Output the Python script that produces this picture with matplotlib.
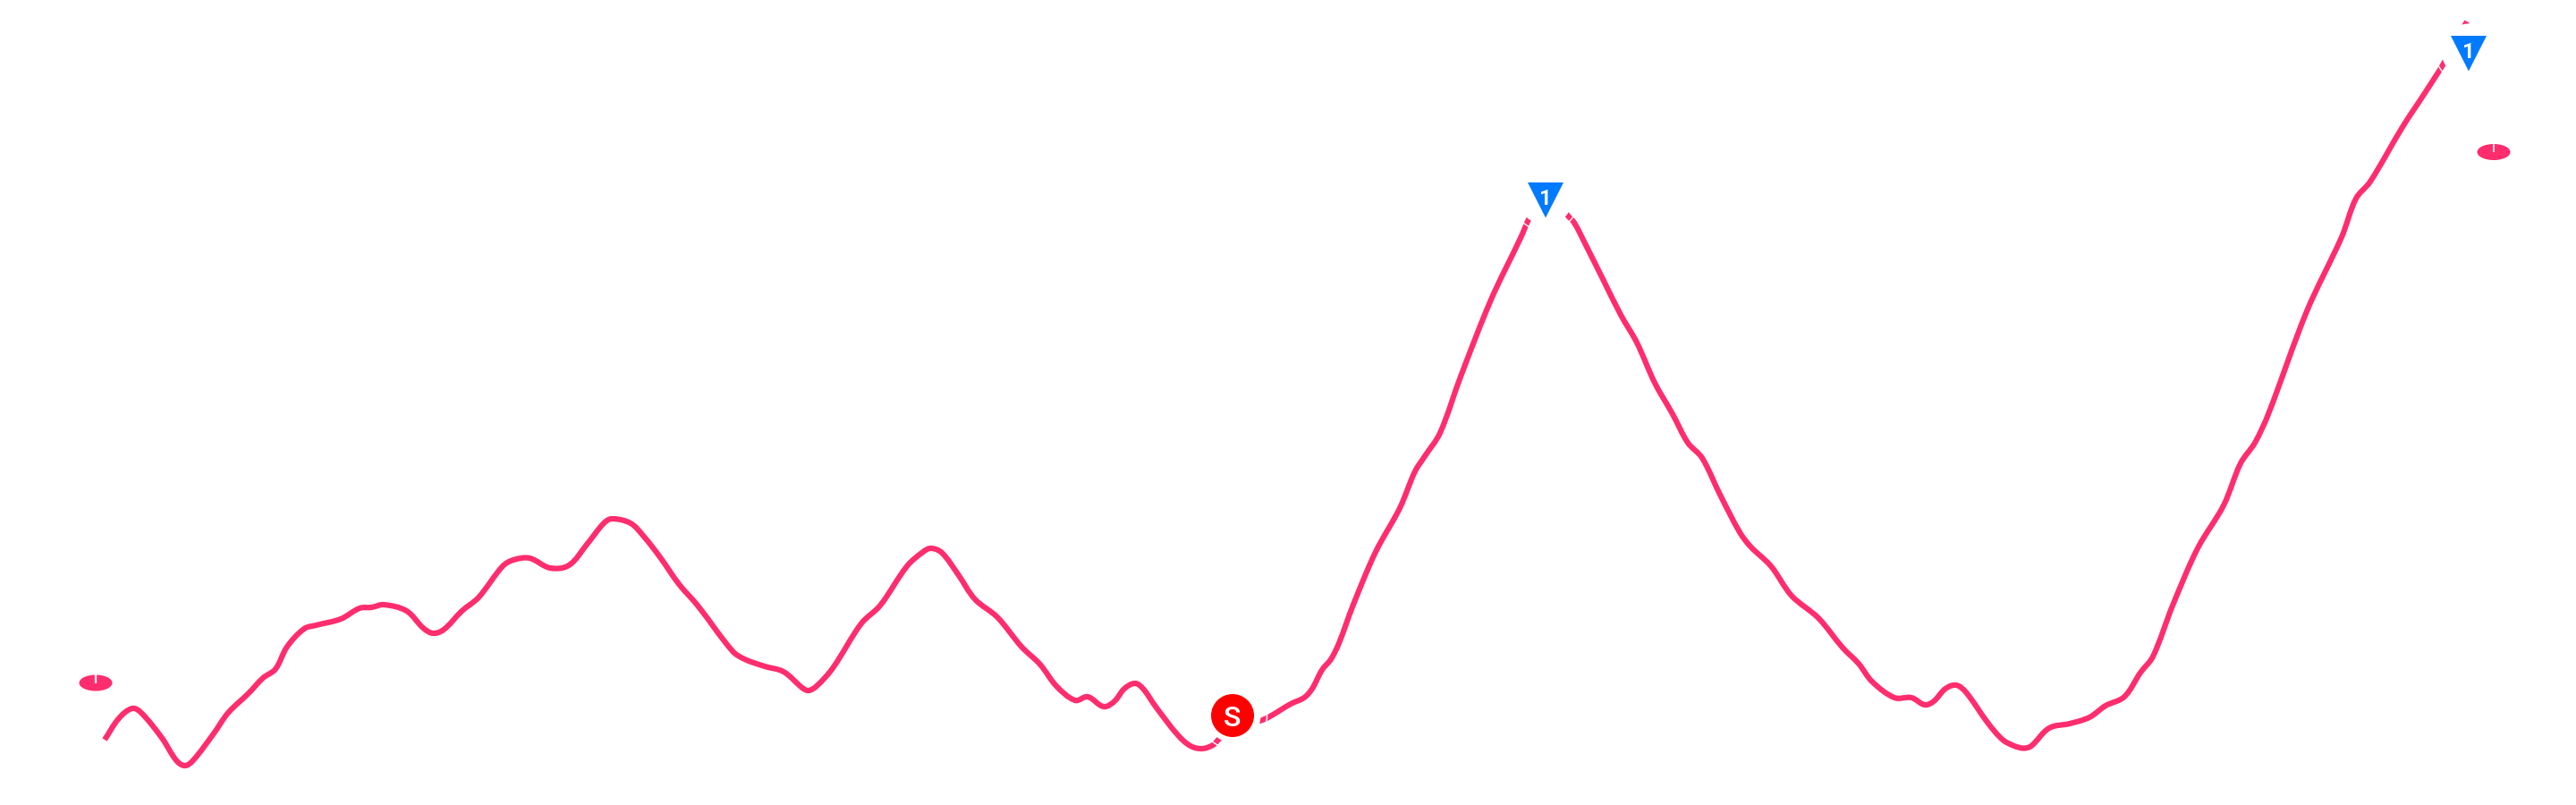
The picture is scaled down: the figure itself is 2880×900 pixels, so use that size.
import numpy as np
import matplotlib
matplotlib.use("Agg")
import matplotlib.pyplot as plt
from matplotlib.path import Path
from matplotlib.patches import PathPatch, Circle, Ellipse, Polygon

plt.rcParams['font.family'] = ['Roboto', 'DejaVu Sans']

LINE = '#FF2D6E'
BLUE = '#007AFF'
RED = '#FF0000'

series_x = [117,133,148,158,181,197,206.6,216,239,255,278,294,308,321,340,353.5,381,402,415.5,429,454.5,473,484,496,516.5,535,562,574,592,615,636,656.6,675,684,705,
            720,738,759,780,819,832.5,855,876,897,904,913,931,963,984,1014,1032,1041,1053,1071,1090,1115,1142,1163,1181,1202,1216,1234,1246,1257,1269,1278,1292,1317,1331,1344,1356,1363,
            1378,1408,1418,1443,1458,1467,1478,1488,1497,1513,1538,1565,1582,1593,1610,1633,1667,1700,1710,
            1729,1752,1760,1773,1793,1812,1830,1850,1870,1887,1903,1923,1945,1957,1980,2003,2033,2060,2078,2093,2118,2137,2152,2162,2175,2187,2198,2223,2239,
            2252,2262.5,2271,2291,2314,2336,2354,2375,2393,2407,2429,2457,2486,2505,2521,2536,2579,2618,2634,2650,2686,2711,2732,2758]
series_y = [827,803,792,797,825,850,856,850,820,797,775,758,748,723,703,699,692,680,679,676,683,702,708,704,683,668,633,626,624,635,632,608,585,580,585,
            600,623,653,677,728,737,745,751,769,772,767,747,697,677,633,617,613,618,642,670,690,723,743,767,783,779,790,784,770,764,770,790,822,834,837,833,826,
            812,806,802,787,780,770,749,737,719,676,617,568,527,510,484,421,335,266,243,
            205,240,249,274,314,352,383,428,463,495,512,553,595,611,633,666,691,724,742,762,780,780,788,784,770,766,774,809,827,
            834,836.5,834,814,809,802,789,779,752,734,677,613,565,518,495,463,348,265,222,203,142,104,71,24]

halo_x = [1379, 1728, 2760]
halo_y = [800, 221, 57]
triangle_x = [1728, 2760]
triangle_top = [204, 40]
triangle_labels = ['1', '1']
power_x = [107, 2788]
power_y = [763.5, 170]

fig = plt.figure(figsize=(14.4, 4.5), dpi=200)
ax = fig.add_axes([0, 0, 1, 1])
ax.set_xlim(0, 2880)
ax.set_ylim(900, 0)
ax.axis('off')
PX = 72 / 200

def smooth_path(xs, ys):
    # Cubic segments through the read points; tangents are scaled per segment
    # so that uneven spacing between points does not cause kinks.
    p = np.column_stack([xs, ys]).astype(float)
    n = len(p)
    t = np.zeros_like(p)
    for i in range(n):
        d = p[min(i + 1, n - 1)] - p[max(i - 1, 0)]
        t[i] = d / np.hypot(*d)
    verts = [p[0]]
    codes = [Path.MOVETO]
    for i in range(n - 1):
        h = np.hypot(*(p[i + 1] - p[i])) / 3
        verts += [p[i] + t[i] * h, p[i + 1] - t[i + 1] * h, p[i + 1]]
        codes += [Path.CURVE4] * 3
    return Path(verts, codes)

ax.add_patch(PathPatch(smooth_path(series_x, series_y), fc='none', ec=LINE,
                       lw=6.2 * PX, capstyle='butt', joinstyle='round', zorder=2))

for hx, hy in zip(halo_x, halo_y):
    ax.add_patch(Circle((hx, hy), 30.5, fc='white', ec='none', zorder=3))
    ax.add_patch(Circle((hx, hy), 37.5, fc='none', ec='white', lw=1.4 * PX, zorder=3))

ax.add_patch(Circle((1378, 800), 24, fc=RED, ec='none', zorder=4))
ax.text(1378, 800, 'S', color='white', fontsize=11.6, fontweight='medium',
        ha='center', va='center_baseline', zorder=5)

for tx, ty, lab in zip(triangle_x, triangle_top, triangle_labels):
    ax.add_patch(Polygon([(tx - 20, ty), (tx + 20, ty), (tx, ty + 39.5)], closed=True,
                         fc=BLUE, ec='none', zorder=4))
    ax.text(tx, ty + 16, lab, color='white', fontsize=8.6, fontweight='bold',
            ha='center', va='center_baseline', zorder=5)

for i, (px, py) in enumerate(zip(power_x, power_y)):
    ax.add_patch(Ellipse((px, py), 37, 18, fc=LINE, ec='none', zorder=4))
    ax.plot([px, px], [py - 9.5, py], color='white', lw=2.2 * PX if i == 0 else 1.6 * PX,
            solid_capstyle='butt', zorder=5)

fig.savefig('out.png', dpi=200, facecolor='white')
